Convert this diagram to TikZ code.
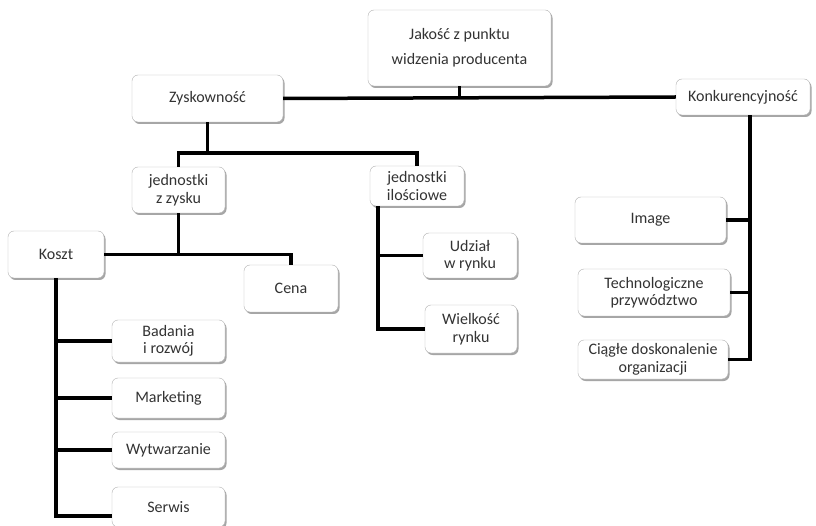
\documentclass[tikz,border=0pt]{standalone}
\usepackage{fontspec}
\setmainfont{Carlito}
\usetikzlibrary{shadows}

\tikzset{
	box/.style = {draw = gray!60, rounded corners = 6pt, fill = white, text = black!80, align = center, inner sep = 1pt, font = \fontsize{16}{17.5}\selectfont, drop shadow = {shadow xshift = 1.5pt, shadow yshift = -2pt, fill = gray!70, opacity = 1}},
	link/.style = {line width = 3.5pt}
}

\begin{document}
\begin{tikzpicture}[x = 1pt, y = -1pt]

	\useasboundingbox [fill = white] (0, 0) rectangle (816, 526);

	% Top level
	
	\node [box, font = \fontsize{16}{25}\selectfont, minimum width = 183pt, minimum height = 76pt] (jakosc) at (459.5, 48) {Jakość z punktu\\widzenia producenta};
	\node [box, minimum width = 151pt, minimum height = 47pt] (zysk) at (207.5, 98.5) {Zyskowność};
	\node [box, minimum width = 134pt, minimum height = 36pt] (konk) at (743, 97) {Konkurencyjność};
	
	% Profit branch
	
	\node [box, minimum width = 93pt, minimum height = 46pt] (jzysk) at (178.5, 190) {jednostki\\z zysku};
	\node [box, minimum width = 94pt, minimum height = 40pt] (jil) at (417, 186) {jednostki\\ilościowe};
	\node [box, minimum width = 96pt, minimum height = 47pt] (koszt) at (56, 254.5) {Koszt};
	\node [box, minimum width = 94pt, minimum height = 47pt] (cena) at (291, 288.5) {Cena};
	\node [box, minimum width = 94pt, minimum height = 45pt] (udzial) at (470, 255.5) {Udział\\w rynku};
	\node [box, minimum width = 92pt, minimum height = 48pt] (wielkosc) at (471, 329) {Wielkość\\rynku};
	
	% Cost items
	
	\node [box, minimum width = 113pt, minimum height = 42pt] (badania) at (168.5, 341) {Badania\\i rozwój};
	\node [box, minimum width = 113pt, minimum height = 40pt] (marketing) at (168.5, 398) {Marketing};
	\node [box, minimum width = 113pt, minimum height = 36pt] (wytw) at (168.5, 450) {Wytwarzanie};
	\node [box, minimum width = 113pt, minimum height = 40pt] (serwis) at (168.5, 507) {Serwis};
	
	% Competitiveness items
	
	\node [box, minimum width = 151pt, minimum height = 46pt] (image) at (650.5, 220) {Image};
	\node [box, minimum width = 152pt, minimum height = 47pt] (tech) at (654, 292.5) {Technologiczne\\przywództwo};
	\node [box, minimum width = 150pt, minimum height = 39pt] (ciagle) at (653, 359.5) {Ciągłe doskonalenie\\organizacji};
	
	% Connectors
	
	\begin{scope}[link]
	
		\draw (zysk.east) -- (konk.west);
		\draw (jakosc.south) -- (jakosc.south |- zysk.east);
		
		\coordinate (zyskdown) at (zysk.south |- 0, 153);
		\draw (zysk.south) -- (zyskdown);
		\draw (jzysk.north) |- (zyskdown) -| (jil.north);
		
		\draw (jzysk.south) -- (jzysk.south |- koszt.east);
		\draw (koszt.east) -| (cena.north);
		
		\coordinate (ilstem) at ([xshift = 8pt] jil.south west);
		\draw (ilstem) |- (wielkosc.west);
		\draw (udzial.west) -- (ilstem |- udzial.west);
		
		\coordinate (konkstem) at ([xshift = 7pt] konk.south);
		\draw (konkstem) |- (ciagle.east);
		\draw (image.east) -- (konkstem |- image.east);
		\draw (tech.east) -- (konkstem |- tech.east);
		
		\coordinate (kosztstem) at (koszt.south);
		\draw (kosztstem) |- ([yshift = -9pt] serwis.west);
		\draw (badania.west) -- (kosztstem |- badania.west);
		\draw (marketing.west) -- (kosztstem |- marketing.west);
		\draw (wytw.west) -- (kosztstem |- wytw.west);
	
	\end{scope}

\end{tikzpicture}
\end{document}
